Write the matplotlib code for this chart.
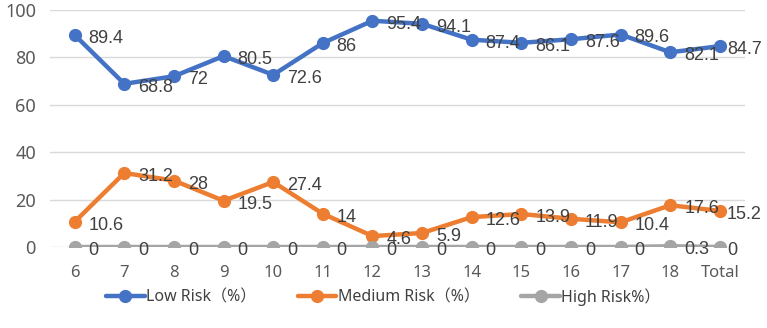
import matplotlib
matplotlib.use("Agg")
import matplotlib.pyplot as plt
import numpy as np

categories = ["6", "7", "8", "9", "10", "11", "12", "13", "14", "15", "16", "17", "18", "Total"]
low_risk = [89.4, 68.8, 72, 80.5, 72.6, 86, 95.4, 94.1, 87.4, 86.1, 87.6, 89.6, 82.1, 84.7]
medium_risk = [10.6, 31.2, 28, 19.5, 27.4, 14, 4.6, 5.9, 12.6, 13.9, 11.9, 10.4, 17.6, 15.2]
high_risk = [0, 0, 0, 0, 0, 0, 0, 0, 0, 0, 0, 0, 0.3, 0]

series = [
    ("Low Risk（%）", low_risk, "#4472C4"),
    ("Medium Risk（%）", medium_risk, "#ED7D31"),
    ("High Risk%）", high_risk, "#A5A5A5"),
]

plt.rcParams["font.family"] = ["Noto Sans", "Noto Sans CJK SC", "DejaVu Sans"]

fig = plt.figure(figsize=(7.67, 3.28), dpi=100)
ax = fig.add_axes([0.065, 0.247, 0.906, 0.723])

x = np.arange(len(categories))
last = len(categories) - 1
for name, vals, color in series:
    ax.plot(x, vals, color=color, lw=3.2, marker="o", ms=8.5, label=name,
            solid_capstyle="round", zorder=3)
    for xi, v in zip(x, vals):
        dx = 5 if xi == last else 10
        ax.annotate(f"{v:g}", (xi, v), xytext=(dx, -2.5), textcoords="offset points",
                    ha="left", va="center", fontsize=13, color="#404040",
                    family=["Liberation Sans", "DejaVu Sans"], zorder=4)

ax.set_xlim(-0.5, len(categories) - 0.5)
ax.set_ylim(0, 100)
ax.set_yticks([0, 20, 40, 60, 80, 100])
ax.set_xticks(x)
ax.set_xticklabels(categories)
ax.grid(axis="y", color="#D9D9D9", lw=1)
ax.set_axisbelow(True)
for s in ax.spines.values():
    s.set_visible(False)
ax.tick_params(length=0, colors="#595959")
ax.tick_params(axis="y", pad=10, labelsize=13)
ax.tick_params(axis="x", pad=13, labelsize=12)

fig.legend(loc="center", bbox_to_anchor=(0.5, 0.095), ncol=3, frameon=False,
           fontsize=11.5, handlelength=2.4, columnspacing=2.6, handletextpad=0.1,
           labelcolor="#404040")

fig.savefig("out.png", dpi=100)
